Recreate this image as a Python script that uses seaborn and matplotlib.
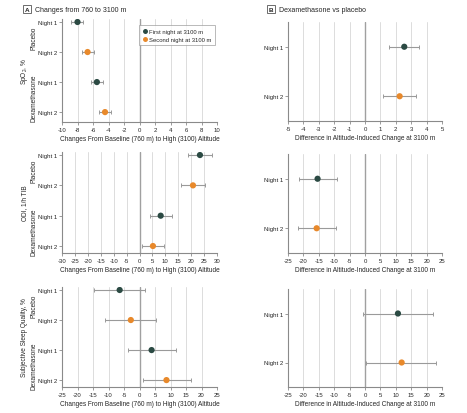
import numpy as np
import pandas as pd
import matplotlib
matplotlib.use("Agg")
import matplotlib.pyplot as plt
import matplotlib.transforms as mtransforms
import seaborn as sns

# Panel A values: change from 760 m to 3100 m (estimate, lower CI, upper CI)
rows_a = ['Placebo N1', 'Placebo N2', 'Dex N1', 'Dex N2']
night_a = ['First night at 3100 m', 'Second night at 3100 m',
           'First night at 3100 m', 'Second night at 3100 m']
spo2_est = [-8.0, -6.7, -5.5, -4.45]
spo2_lo = [-8.85, -7.4, -6.25, -5.2]
spo2_hi = [-7.3, -5.85, -4.75, -3.7]
odi_est = [23.4, 20.7, 8.2, 5.2]
odi_lo = [18.9, 16.2, 4.1, 1.1]
odi_hi = [28.1, 25.4, 12.6, 9.6]
sleep_est = [-6.4, -2.8, 3.9, 8.7]
sleep_lo = [-14.7, -11.1, -3.7, 1.0]
sleep_hi = [1.8, 5.4, 11.7, 16.5]

# Panel B values: dexamethasone vs placebo difference
night_b = ['First night at 3100 m', 'Second night at 3100 m']
spo2_diff = [2.55, 2.25]
spo2_diff_lo = [1.57, 1.2]
spo2_diff_hi = [3.5, 3.3]
odi_diff = [-15.4, -15.7]
odi_diff_lo = [-21.4, -21.8]
odi_diff_hi = [-9.2, -9.5]
sleep_diff = [10.7, 11.9]
sleep_diff_lo = [-0.8, 0.3]
sleep_diff_hi = [22.1, 23.2]

measures = ['SpO$_2$, %', 'ODI, 1/h TIB', 'Subjective Sleep Quality, %']
a_ticks = [np.arange(-10, 11, 2), np.arange(-30, 31, 5), np.arange(-25, 26, 5)]
b_ticks = [np.arange(-5, 6, 1), np.arange(-25, 26, 5), np.arange(-25, 26, 5)]

palette = {'First night at 3100 m': '#2b4a43', 'Second night at 3100 m': '#e8892b'}

sns.set_style('white')
plt.rcParams['font.family'] = ['Liberation Sans', 'DejaVu Sans']
plt.rcParams['mathtext.fontset'] = 'custom'
plt.rcParams['mathtext.rm'] = 'Liberation Sans'
plt.rcParams['mathtext.it'] = 'Liberation Sans'
plt.rcParams['axes.unicode_minus'] = False

W, H = 467, 414
fig = plt.figure(figsize=(W / 100, H / 100), dpi=100)

TICK_FS = 4.3
LAB_FS = 4.7


def px(l, t, r, b):
    return [l / W, 1 - b / H, (r - l) / W, (b - t) / H]


def style_axis(ax, ticks):
    ax.set_xticks(ticks)
    ax.set_xlim(ticks[0], ticks[-1])
    ax.set_xticklabels([str(t) for t in ticks])
    for t in ticks:
        if t == 0:
            ax.axvline(0, color='#a0a0a0', lw=1.0, zorder=1)
        else:
            ax.axvline(t, color='#dcdcdc', lw=0.7, zorder=0)
    for s in ['top', 'right']:
        ax.spines[s].set_visible(False)
    for s in ['left', 'bottom']:
        ax.spines[s].set_color('#8a8a8a')
        ax.spines[s].set_linewidth(0.8)
    ax.tick_params(axis='both', labelsize=TICK_FS, length=2, width=0.6,
                   color='#8a8a8a', pad=1.5, direction='out')
    ax.tick_params(axis='x', bottom=True)
    ax.tick_params(axis='y', left=True)


a_data = [(spo2_est, spo2_lo, spo2_hi), (odi_est, odi_lo, odi_hi),
          (sleep_est, sleep_lo, sleep_hi)]
b_data = [(spo2_diff, spo2_diff_lo, spo2_diff_hi), (odi_diff, odi_diff_lo, odi_diff_hi),
          (sleep_diff, sleep_diff_lo, sleep_diff_hi)]

a_boxes = [(62, 20, 217, 123), (62, 153, 217, 254), (62, 288, 217, 388)]
b_boxes = [(288, 23, 442, 122), (288, 155, 442, 254), (288, 290, 442, 388)]
a_ylims = [(3.33, -0.1), (3.23, -0.1), (3.23, -0.1)]

for i in range(3):
    # Panel A
    est, lo, hi = a_data[i]
    df = pd.DataFrame({'pos': np.arange(4), 'est': est, 'lo': lo, 'hi': hi, 'night': night_a})
    ax = fig.add_axes(px(*a_boxes[i]))
    style_axis(ax, a_ticks[i])
    ax.errorbar(df['est'], df['pos'], xerr=[df['est'] - df['lo'], df['hi'] - df['est']],
                fmt='none', ecolor='#9a9a9a', elinewidth=0.8, capsize=1.6, capthick=0.7, zorder=2)
    sns.scatterplot(data=df, x='est', y='pos', hue='night', palette=palette, s=20,
                    edgecolor='none', zorder=3, legend=(i == 0), ax=ax)
    ax.set_ylim(*a_ylims[i])
    ax.set_yticks(np.arange(4))
    ax.set_yticklabels(['Night 1', 'Night 2', 'Night 1', 'Night 2'])
    ax.set_ylabel('')
    ax.set_xlabel('Changes From Baseline (760 m) to High (3100) Altitude', fontsize=LAB_FS, labelpad=2)
    trans = mtransforms.blended_transform_factory(ax.transAxes, ax.transData)
    ax.text(-0.178, 0.5, 'Placebo', rotation=90, ha='center', va='center', fontsize=LAB_FS, transform=trans)
    ax.text(-0.178, 2.5, 'Dexamethasone', rotation=90, ha='center', va='center', fontsize=LAB_FS,
            transform=trans)
    ax.text(-0.24, 0.5, measures[i], rotation=90, ha='center', va='center', fontsize=LAB_FS,
            transform=ax.transAxes)
    if i == 0:
        leg = ax.legend(loc='upper right', bbox_to_anchor=(1.005, 0.97), fontsize=4.2, frameon=True,
                        handletextpad=0.2, borderpad=0.6, labelspacing=0.5, handlelength=1.0,
                        markerscale=0.8, fancybox=False)
        leg.get_frame().set_edgecolor('#9a9a9a')
        leg.get_frame().set_linewidth(0.6)

    # Panel B
    est, lo, hi = b_data[i]
    dfb = pd.DataFrame({'pos': np.arange(2), 'est': est, 'lo': lo, 'hi': hi, 'night': night_b})
    axb = fig.add_axes(px(*b_boxes[i]))
    style_axis(axb, b_ticks[i])
    axb.errorbar(dfb['est'], dfb['pos'], xerr=[dfb['est'] - dfb['lo'], dfb['hi'] - dfb['est']],
                 fmt='none', ecolor='#9a9a9a', elinewidth=0.8, capsize=1.6, capthick=0.7, zorder=2)
    sns.scatterplot(data=dfb, x='est', y='pos', hue='night', palette=palette, s=20,
                    edgecolor='none', zorder=3, legend=False, ax=axb)
    axb.set_ylim(1.5, -0.5)
    axb.set_yticks([0, 1])
    axb.set_yticklabels(['Night 1', 'Night 2'])
    axb.set_ylabel('')
    axb.set_xlabel('Difference in Altitude-Induced Change at 3100 m', fontsize=LAB_FS, labelpad=2)

# Panel headers with boxed letters
box = dict(boxstyle='square,pad=0.3', facecolor='white', edgecolor='#555555', linewidth=0.6)
fig.text(27 / W, 1 - 10 / H, 'A', fontsize=4.6, ha='center', va='center', bbox=box, weight='bold')
fig.text(35 / W, 1 - 10 / H, 'Changes from 760 to 3100 m', fontsize=5.0, ha='left', va='center')
fig.text(271 / W, 1 - 10 / H, 'B', fontsize=4.6, ha='center', va='center', bbox=box, weight='bold')
fig.text(279 / W, 1 - 10 / H, 'Dexamethasone vs placebo', fontsize=5.0, ha='left', va='center')

fig.savefig('out.png', dpi=100)
